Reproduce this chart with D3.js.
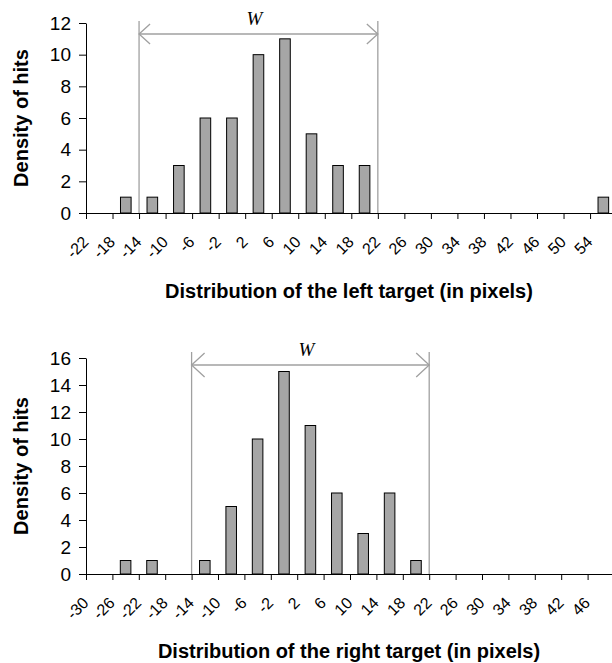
<!DOCTYPE html>
<html>
<head>
<meta charset="utf-8">
<script src="https://cdn.jsdelivr.net/npm/d3@7"></script>
<style>
  html, body { margin: 0; padding: 0; background: #fff; }
  svg { display: block; }
  text { font-family: "Liberation Sans", Arial, sans-serif; fill: #000; }
</style>
</head>
<body>
<svg id="chart" width="612" height="663"></svg>
<script>
// ---- Data ----
// Bin start values (tick labels) and hit counts, left target
const leftEdges  = [-22, -18, -14, -10, -6, -2, 2, 6, 10, 14, 18, 22, 26, 30, 34, 38, 42, 46, 50, 54];
const leftCounts = [0, 1, 1, 3, 6, 6, 10, 11, 5, 3, 3, 0, 0, 0, 0, 0, 0, 0, 0, 1];
const leftYTicks = [0, 2, 4, 6, 8, 10, 12];

// Right target
const rightEdges  = [-30, -26, -22, -18, -14, -10, -6, -2, 2, 6, 10, 14, 18, 22, 26, 30, 34, 38, 42, 46];
const rightCounts = [0, 1, 1, 0, 1, 5, 10, 15, 11, 6, 3, 6, 1, 0, 0, 0, 0, 0, 0, 0];
const rightYTicks = [0, 2, 4, 6, 8, 10, 12, 14, 16];

// Target width W bounds (pixels)
const wBounds = [-14, 22];
const binWidth = 4;

const titles = {
  y: "Density of hits",
  left: "Distribution of the left target (in pixels)",
  right: "Distribution of the right target (in pixels)",
  w: "W"
};

const svg = d3.select("#chart");

function drawPanel(cfg) {
  const g = svg.append("g");
  const x = d3.scaleLinear()
    .domain([cfg.edges[0], cfg.edges[cfg.edges.length - 1] + binWidth])
    .range([cfg.x0, cfg.x1]);
  const y = d3.scaleLinear().domain([0, d3.max(cfg.yTicks)]).range([cfg.yBottom, cfg.yTop]);
  const bw = x(binWidth) - x(0);

  // W bracket (drawn beneath bars)
  const wg = g.append("g").attr("stroke", "#a0a0a0").attr("stroke-width", 1.3).attr("fill", "none");
  wBounds.forEach(v => {
    wg.append("line").attr("x1", x(v)).attr("x2", x(v))
      .attr("y1", cfg.wTop).attr("y2", cfg.yBottom);
  });
  wg.append("line").attr("x1", x(wBounds[0])).attr("x2", x(wBounds[1]))
    .attr("y1", cfg.wArrowY).attr("y2", cfg.wArrowY);
  const ah = cfg.arrowLen, aw = cfg.arrowHalf;
  wg.append("path").attr("d",
    `M${x(wBounds[0]) + ah},${cfg.wArrowY - aw} L${x(wBounds[0])},${cfg.wArrowY} L${x(wBounds[0]) + ah},${cfg.wArrowY + aw}`);
  wg.append("path").attr("d",
    `M${x(wBounds[1]) - ah},${cfg.wArrowY - aw} L${x(wBounds[1])},${cfg.wArrowY} L${x(wBounds[1]) - ah},${cfg.wArrowY + aw}`);
  g.append("text")
    .attr("x", (x(wBounds[0]) + x(wBounds[1])) / 2 - 4)
    .attr("y", cfg.wArrowY - 9)
    .attr("text-anchor", "middle")
    .style("font-family", "'Liberation Serif', 'Times New Roman', serif")
    .style("font-style", "italic")
    .style("font-size", "19px")
    .text(titles.w);

  // Bars
  g.append("g").selectAll("rect")
    .data(cfg.edges.map((e, i) => ({ e, c: cfg.counts[i] })).filter(d => d.c > 0))
    .join("rect")
    .attr("x", d => x(d.e + binWidth / 2) - bw * 0.2)
    .attr("width", bw * 0.4)
    .attr("y", d => y(d.c))
    .attr("height", d => cfg.yBottom - y(d.c))
    .attr("fill", "#a6a6a6")
    .attr("stroke", "#000")
    .attr("stroke-width", 1);

  // Y axis
  const ya = g.append("g").attr("transform", `translate(${cfg.x0},0)`)
    .call(d3.axisLeft(y).tickValues(cfg.yTicks).tickFormat(d => String(d)).tickSize(7).tickSizeOuter(0).tickPadding(8));
  ya.selectAll("text").style("font-size", "19px");
  ya.selectAll("path, line").attr("stroke", "#000");

  // X axis
  const xa = g.append("g").attr("transform", `translate(0,${cfg.yBottom})`)
    .call(d3.axisBottom(x).tickValues(cfg.edges).tickFormat(d => String(d)).tickSize(6).tickSizeOuter(0));
  xa.select(".domain").attr("d", `M${cfg.x0},0.5H${cfg.x1}`);
  xa.selectAll("path, line").attr("stroke", "#000");
  xa.selectAll("text")
    .attr("x", null).attr("y", null).attr("dy", null)
    .attr("transform", "translate(3,30) rotate(-45)")
    .style("text-anchor", "end")
    .style("font-size", "16px");

  // Axis titles
  g.append("text")
    .attr("transform", `translate(${cfg.yTitleX},${(cfg.yTop + cfg.yBottom) / 2}) rotate(-90)`)
    .attr("text-anchor", "middle")
    .style("font-size", "20px").style("font-weight", "bold")
    .text(titles.y);
  g.append("text")
    .attr("x", 349).attr("y", cfg.xTitleY)
    .attr("text-anchor", "middle")
    .style("font-size", "20px").style("font-weight", "bold")
    .text(cfg.xTitle);
}

drawPanel({
  edges: leftEdges, counts: leftCounts, yTicks: leftYTicks,
  x0: 86, x1: 616.6, yTop: 23, yBottom: 213,
  wTop: 21, wArrowY: 34, arrowLen: 11, arrowHalf: 10,
  yTitleX: 28, xTitleY: 298, xTitle: titles.left
});

drawPanel({
  edges: rightEdges, counts: rightCounts, yTicks: rightYTicks,
  x0: 86, x1: 614, yTop: 358, yBottom: 574,
  wTop: 352, wArrowY: 365, arrowLen: 13, arrowHalf: 12,
  yTitleX: 28, xTitleY: 658, xTitle: titles.right
});
</script>
</body>
</html>
